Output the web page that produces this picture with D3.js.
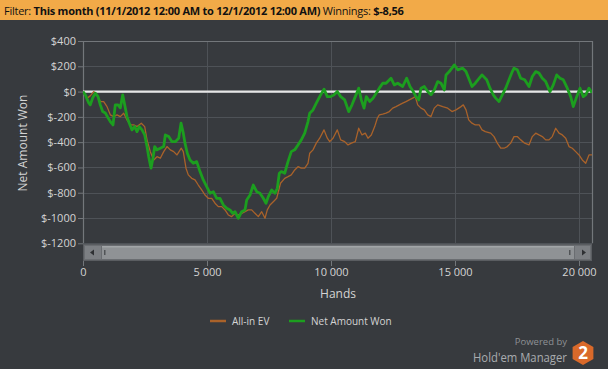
<!DOCTYPE html>
<html><head><meta charset="utf-8">
<script src="https://cdn.jsdelivr.net/npm/d3@7"></script>
<style>
html,body{margin:0;padding:0;background:#373a3e;}
svg{display:block;}
text{font-family:"Open Sans","Noto Sans",sans-serif;}
</style></head>
<body>
<svg id="chart" width="608" height="369"></svg>
<script>
// ---------- data ----------
const netHands = [0,93,230,294,391,496,605,698,794,899,1008,1101,1210,1302,1411,1504,1601,1681,1774,1867,1976,2085,2177,2270,2379,2488,2581,2649,2742,2823,2891,2984,3117,3254,3319,3456,3589,3722,3859,3952,4044,4113,4206,4315,4448,4585,4718,4851,4988,5121,5254,5391,5524,5657,5794,5927,6036,6129,6262,6399,6532,6601,6734,6867,7004,7137,7270,7379,7472,7609,7742,7835,7915,7996,8133,8266,8399,8536,8669,8802,8940,9073,9141,9274,9407,9544,9718,9851,9988,10121,10254,10391,10552,10714,10847,10980,11117,11222,11331,11423,11560,11694,11867,11948,12085,12218,12419,12552,12690,12891,13052,13185,13318,13427,13536,13629,13762,13899,14032,14165,14302,14435,14569,14637,14770,14972,15109,15310,15444,15552,15685,15818,15980,16089,16278,16411,16544,16641,16774,16907,17044,17177,17310,17379,17512,17649,17810,17984,18117,18254,18387,18520,18657,18831,18964,19101,19234,19367,19528,19665,19770,19907,20040,20173,20270,20403,20524];
const netWon = [0,-26,-89,-105,-50,-13,-40,-105,-158,-169,-208,-237,-264,-105,-105,-129,-26,-105,-198,-250,-303,-277,-317,-277,-303,-343,-435,-515,-606,-525,-435,-461,-448,-435,-343,-356,-396,-396,-369,-250,-329,-408,-488,-541,-567,-554,-633,-699,-752,-804,-792,-844,-844,-897,-923,-936,-963,-950,-1002,-950,-936,-857,-818,-739,-792,-804,-844,-883,-831,-778,-804,-765,-646,-633,-646,-554,-475,-461,-422,-382,-329,-237,-171,-145,-92,-40,19,-40,-40,-26,0,-40,-66,-158,-105,-40,27,-66,-131,-40,-79,-52,0,27,66,66,106,53,66,40,106,40,0,-40,-66,27,40,0,-26,13,79,66,13,132,158,211,172,185,158,106,40,66,106,132,93,27,-26,-52,-79,-26,27,93,158,185,172,106,93,40,119,158,146,106,79,0,53,132,106,93,27,-40,-119,-40,27,-40,-26,27,-9];

const evHands = [0,161,294,431,565,698,835,968,1101,1238,1371,1504,1641,1774,1907,2044,2177,2351,2488,2581,2714,2851,2984,3117,3254,3387,3520,3657,3790,3964,4044,4153,4246,4383,4516,4649,4786,4919,5052,5190,5323,5456,5593,5726,5859,5996,6129,6262,6399,6532,6665,6802,6935,7069,7206,7339,7431,7540,7673,7810,7964,8133,8266,8399,8536,8669,8802,8940,9073,9141,9274,9407,9544,9718,9851,9948,10081,10254,10391,10552,10685,10819,10980,11117,11250,11383,11492,11625,11762,11867,11948,12085,12218,12351,12488,12621,12754,12891,13024,13157,13294,13399,13496,13629,13762,13899,14032,14165,14302,14504,14706,14879,15040,15242,15335,15444,15552,15685,15818,15980,16089,16222,16440,16573,16706,16843,16976,17109,17246,17379,17512,17649,17810,17984,18117,18254,18387,18520,18657,18790,18923,19060,19194,19327,19464,19597,19730,19867,20000,20133,20270,20403,20524];
const allInEV = [0,-52,-34,0,-26,-79,-79,-119,-184,-198,-184,-198,-171,-224,-264,-264,-277,-250,-277,-382,-475,-541,-515,-527,-475,-435,-461,-475,-501,-448,-475,-606,-659,-686,-699,-739,-778,-818,-844,-844,-883,-910,-910,-936,-976,-989,-963,-976,-963,-950,-936,-936,-963,-989,-950,-1002,-936,-897,-871,-844,-725,-686,-673,-659,-620,-594,-606,-606,-567,-488,-461,-408,-369,-303,-369,-396,-369,-303,-382,-396,-422,-408,-396,-290,-343,-329,-369,-343,-277,-211,-184,-179,-171,-158,-131,-119,-105,-92,-79,-66,-52,-40,-105,-131,-145,-184,-198,-131,-105,-119,-131,-158,-145,-119,-105,-145,-224,-250,-264,-264,-303,-317,-329,-356,-408,-448,-448,-435,-408,-356,-356,-382,-408,-422,-356,-329,-343,-356,-382,-382,-356,-290,-329,-343,-369,-435,-448,-475,-501,-541,-567,-501,-501];

const yTicks = [400,200,0,-200,-400,-600,-800,-1000,-1200];
const xTicks = [0,5000,10000,15000,20000];
const seriesNames = ["All-in EV","Net Amount Won"];
const headerParts = [["Filter: ",false],["This month (11/1/2012 12:00 AM to 12/1/2012 12:00 AM) ",true],["Winnings: ",false],["$-8,56",true]];

// ---------- layout ----------
const svg = d3.select("#chart");
const W=608,H=369;
const L=83,R=592,T=41,B=243.3;
const x = d3.scaleLinear().domain([0,20524]).range([L,R]);
const y = d3.scaleLinear().domain([-1200,400]).range([B,T]);
const C = {bg:"#373a3e",grid:"#4e5257",frame:"#73777b",text:"#d4d4d4",green:"#1c9e1f",orange:"#a9622a",zero:"#e6e6e6"};

svg.append("rect").attr("width",W).attr("height",H).attr("fill",C.bg);

// header
svg.append("rect").attr("width",W).attr("height",20).attr("fill","#f2aa48");
const ht = svg.append("text").attr("x",4).attr("y",14.5).attr("font-size",11).attr("fill","#111")
  .attr("font-family","Roboto,'Noto Sans',sans-serif").attr("letter-spacing",-0.25);
headerParts.forEach(p=>{
  ht.append("tspan").attr("font-weight",p[1]?"bold":"normal").text(p[0]);
});

// grid
const g = svg.append("g");
g.selectAll(".hg").data(yTicks).join("line")
  .attr("x1",L).attr("x2",R).attr("y1",d=>Math.round(y(d))+0.5).attr("y2",d=>Math.round(y(d))+0.5)
  .attr("stroke",C.grid).attr("stroke-width",1);
g.selectAll(".vg").data(xTicks.filter(d=>d>0)).join("line")
  .attr("x1",d=>Math.round(x(d))+0.5).attr("x2",d=>Math.round(x(d))+0.5).attr("y1",T).attr("y2",B)
  .attr("stroke",C.grid).attr("stroke-width",1);
// frame
svg.append("path").attr("d",`M${L+0.5},${B}V${T+0.5}H${R+0.5}V${B}`).attr("fill","none").attr("stroke",C.frame).attr("stroke-width",1.2);

// y axis
const ya = svg.append("g").attr("transform",`translate(${L},0)`)
  .call(d3.axisLeft(y).tickValues(yTicks).tickSize(5).tickPadding(2).tickFormat(d=>"$"+d));
ya.select(".domain").remove();
ya.selectAll("line").attr("stroke",C.frame);
ya.selectAll("text").attr("fill",C.text).attr("font-size",11).attr("font-family","'Open Sans',sans-serif");

// clip
svg.append("clipPath").attr("id","clip").append("rect").attr("x",L).attr("y",T).attr("width",R-L).attr("height",B-T);

// zero line
svg.append("line").attr("x1",L).attr("x2",R).attr("y1",y(0)).attr("y2",y(0)).attr("stroke",C.zero).attr("stroke-width",2.2);

const line = d3.line().x(d=>x(d[0])).y(d=>y(d[1]));
const lines = svg.append("g").attr("clip-path","url(#clip)");
lines.append("path").datum(evHands.map((h,i)=>[h,allInEV[i]])).attr("d",line)
  .attr("fill","none").attr("stroke",C.orange).attr("stroke-width",1.3).attr("stroke-linejoin","round");
lines.append("path").datum(netHands.map((h,i)=>[h,netWon[i]])).attr("d",line)
  .attr("fill","none").attr("stroke",C.green).attr("stroke-width",2.8).attr("stroke-linejoin","round");

// scrollbar
const sb = svg.append("g");
sb.append("rect").attr("x",83.5).attr("y",244.5).attr("width",508).attr("height",16).attr("fill","#6a6d71").attr("stroke","#5a5d61");
sb.append("rect").attr("x",85).attr("y",246).attr("width",16).attr("height",13).attr("fill","#7c7f83");
sb.append("rect").attr("x",575).attr("y",246).attr("width",15).attr("height",13).attr("fill","#7c7f83");
sb.append("rect").attr("x",102).attr("y",246).attr("width",472).attr("height",13).attr("fill","#8f9295");
sb.append("rect").attr("x",102).attr("y",246).attr("width",472).attr("height",1.5).attr("fill","#a2a5a8");
sb.append("rect").attr("x",104).attr("y",250).attr("width",1.5).attr("height",5).attr("fill","#505356");
sb.append("rect").attr("x",569).attr("y",250).attr("width",1.5).attr("height",5).attr("fill","#505356");
sb.append("path").attr("d","M90,252.5L94,249.5V255.5Z").attr("fill","#2e3033");
sb.append("path").attr("d","M586,252.5L582,249.5V255.5Z").attr("fill","#2e3033");

// x axis
const xa = svg.append("g").attr("transform",`translate(0,261)`)
  .call(d3.axisBottom(x).tickValues(xTicks).tickSize(5).tickPadding(2)
    .tickFormat(d=>d3.format(",")(d).replace(/,/g," ")));
xa.select(".domain").remove();
xa.selectAll("line").attr("stroke",C.frame);
xa.selectAll("text").attr("fill",C.text).attr("font-size",11).attr("font-family","'Open Sans',sans-serif");

// axis titles
svg.append("text").attr("x",338).attr("y",298).attr("text-anchor","middle").attr("fill",C.text).attr("font-size",12).text("Hands");
svg.append("text").attr("transform","translate(27,143) rotate(-90)").attr("text-anchor","middle").attr("fill",C.text).attr("font-size",12).text("Net Amount Won");

// legend
const lg = svg.append("g");
const lgX=[210,289], lgCol=[C.orange,C.green];
seriesNames.forEach((n,i)=>{
  lg.append("line").attr("x1",lgX[i]).attr("x2",lgX[i]+16).attr("y1",321).attr("y2",321).attr("stroke",lgCol[i]).attr("stroke-width",2.5);
  lg.append("text").attr("x",lgX[i]+22).attr("y",325).attr("fill",C.text).attr("font-size",10).text(n);
});

// logo
svg.append("text").attr("x",567).attr("y",345).attr("text-anchor","end").attr("fill","#8e9195").attr("font-size",9.5).text("Powered by");
svg.append("text").attr("x",567).attr("y",362).attr("text-anchor","end").attr("fill","#a9acaf").attr("font-size",12.5)
  .attr("textLength",94).attr("lengthAdjust","spacingAndGlyphs").text("Hold'em Manager");
const hc=[583,353], hr=12;
const hex = d3.range(6).map(k=>{const a=Math.PI/3*k - Math.PI/2; return [hc[0]+hr*Math.cos(a), hc[1]+hr*Math.sin(a)];});
svg.append("path").attr("d","M"+hex.join("L")+"Z").attr("fill","#d9692a");
svg.append("text").attr("x",hc[0]).attr("y",hc[1]+6).attr("text-anchor","middle").attr("fill","#fff").attr("font-weight","bold").attr("font-size",17).text("2");
</script>
</body></html>
